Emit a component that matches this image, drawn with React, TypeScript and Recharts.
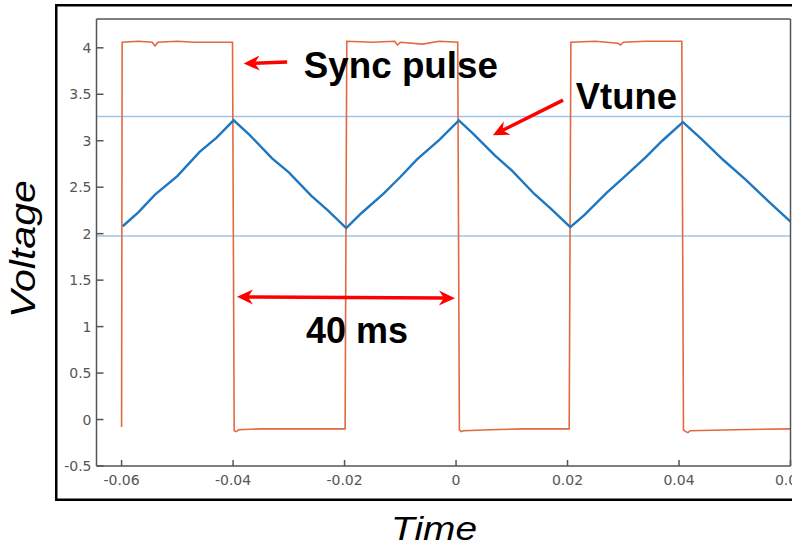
import React from "react";
import {
  LineChart,
  Line,
  XAxis,
  YAxis,
  ReferenceLine,
  ReferenceDot,
} from "recharts";

const X_TICKS = [-0.06, -0.04, -0.02, 0, 0.02, 0.04, 0.06];
const Y_TICKS = [-0.5, 0, 0.5, 1, 1.5, 2, 2.5, 3, 3.5, 4];
const X_DOMAIN = [-0.0645, 0.06];
const Y_DOMAIN = [-0.5, 4.31];

// sync pulse (orange square wave)
const syncTime = [
  -0.06, -0.0599, -0.057, -0.0545, -0.054, -0.0535, -0.05, -0.047, -0.0401,
  -0.0398, -0.0394, -0.039, -0.035, -0.03, -0.025, -0.0199,
  -0.0196, -0.015, -0.011, -0.0105, -0.01, -0.006, -0.003, 0.0003,
  0.0006, 0.0009, 0.0014, 0.006, 0.012, 0.0203,
  0.0206, 0.025, 0.029, 0.0295, 0.03, 0.034, 0.0405,
  0.0408, 0.0412, 0.0416, 0.042, 0.05, 0.06,
];
const syncVolt = [
  -0.08, 4.06, 4.07, 4.06, 4.02, 4.06, 4.07, 4.06, 4.06,
  -0.12, -0.13, -0.11, -0.1, -0.1, -0.1, -0.1,
  4.07, 4.06, 4.07, 4.03, 4.06, 4.04, 4.07, 4.06,
  -0.11, -0.13, -0.12, -0.11, -0.1, -0.1,
  4.06, 4.07, 4.05, 4.03, 4.06, 4.07, 4.07,
  -0.11, -0.13, -0.14, -0.12, -0.11, -0.1,
];

// Vtune (blue triangle ramp)
const vtuneTime = [
  -0.0598, -0.057, -0.054, -0.05, -0.046, -0.043, -0.0399,
  -0.037, -0.033, -0.03, -0.026, -0.023, -0.0197,
  -0.017, -0.013, -0.01, -0.007, -0.003, 0.0005,
  0.003, 0.007, 0.01, 0.014, 0.017, 0.0205,
  0.023, 0.027, 0.03, 0.034, 0.037, 0.0407,
  0.044, 0.048, 0.052, 0.056, 0.06,
];
const vtuneVolt = [
  2.08, 2.23, 2.42, 2.62, 2.88, 3.03, 3.22,
  3.06, 2.81, 2.66, 2.41, 2.25, 2.06,
  2.22, 2.43, 2.61, 2.8, 3.01, 3.22,
  3.08, 2.84, 2.68, 2.43, 2.27, 2.07,
  2.2, 2.44, 2.6, 2.82, 3.0, 3.2,
  3.02, 2.79, 2.58, 2.35, 2.13,
];

// light blue guide lines at the Vtune extremes
const guideLevels = [3.26, 1.975];

// annotations (data coordinates)
const noteText = ["Sync pulse", "Vtune", "40 ms"];
const noteAt = [
  [-0.0273, 3.674],
  [0.0215, 3.346],
  [-0.0269, 0.8245],
];
const noteLength = [194, 101, 102];

const arrowStart = [
  [-0.0303, 3.846],
  [0.0192, 3.437],
  [-0.0393, 1.32],
];
const arrowEnd = [
  [-0.0381, 3.83],
  [0.0066, 3.06],
  [-0.0002, 1.306],
];
const arrowBoth = [false, false, true];

const RED = "#ff0000";
const AXIS = "#555";

const head = (tx: number, ty: number, fx: number, fy: number, key: string) => {
  const a = Math.atan2(ty - fy, tx - fx);
  const c = Math.cos(a);
  const s = Math.sin(a);
  const pt = (along: number, across: number) =>
    `${tx - along * c - across * s},${ty - along * s + across * c}`;
  return (
    <polygon
      key={key}
      points={[pt(0, 0), pt(16, 7.5), pt(11, 0), pt(16, -7.5)].join(" ")}
      fill={RED}
    />
  );
};

const ArrowShape = (props: any, both: boolean) => {
  const { x1, y1, x2, y2 } = props;
  const a = Math.atan2(y2 - y1, x2 - x1);
  const c = Math.cos(a);
  const s = Math.sin(a);
  const sx = both ? x1 + 11 * c : x1;
  const sy = both ? y1 + 11 * s : y1;
  return (
    <g>
      <line
        x1={sx}
        y1={sy}
        x2={x2 - 11 * c}
        y2={y2 - 11 * s}
        stroke={RED}
        strokeWidth={3.5}
      />
      {head(x2, y2, x1, y1, "e")}
      {both && head(x1, y1, x2, y2, "s")}
    </g>
  );
};

export default function App() {
  const sync = syncTime.map((t, i) => ({ t, v: syncVolt[i] }));
  const vtune = vtuneTime.map((t, i) => ({ t, v: vtuneVolt[i] }));
  const tickStyle = {
    fill: AXIS,
    fontSize: 14,
    fontFamily: "'DejaVu Sans', sans-serif",
  };

  return (
    <div
      style={{
        position: "absolute",
        left: 0,
        top: 0,
        width: 792,
        height: 552,
        overflow: "hidden",
        background: "#fff",
        fontFamily: "'Liberation Sans', Arial, sans-serif",
      }}
    >
      <svg
        width={792}
        height={552}
        style={{ position: "absolute", left: 0, top: 0 }}
      >
        <rect
          x={56.25}
          y={5.25}
          width={800}
          height={494.5}
          fill="none"
          stroke="#000"
          strokeWidth={2.5}
        />
        <text
          transform="translate(35 249) rotate(-90)"
          textAnchor="middle"
          fontSize={35}
          fontStyle="italic"
          textLength={138}
          lengthAdjust="spacingAndGlyphs"
          fill="#000"
        >
          Voltage
        </text>
        <text
          x={434}
          y={540}
          textAnchor="middle"
          fontSize={34}
          fontStyle="italic"
          textLength={86}
          lengthAdjust="spacingAndGlyphs"
          fill="#000"
        >
          Time
        </text>
      </svg>
      <div style={{ position: "absolute", left: 0, top: 0 }}>
        <LineChart
          width={840}
          height={552}
          margin={{ top: 18, right: 48.5, bottom: 56, left: 56.5 }}
        >
          <XAxis
            dataKey="t"
            type="number"
            domain={X_DOMAIN}
            ticks={X_TICKS}
            interval={0}
            allowDataOverflow
            height={30}
            tickSize={-6}
            tickMargin={15}
            tick={tickStyle}
            axisLine={{ stroke: AXIS, strokeWidth: 1.5 }}
            tickLine={{ stroke: AXIS, strokeWidth: 1.5 }}
          />
          <XAxis
            xAxisId="top"
            orientation="top"
            type="number"
            domain={X_DOMAIN}
            ticks={X_TICKS}
            interval={0}
            allowDataOverflow
            height={1}
            tickSize={-6}
            tick={false}
            axisLine={{ stroke: AXIS, strokeWidth: 1.5 }}
            tickLine={{ stroke: AXIS, strokeWidth: 1.5 }}
          />
          <YAxis
            type="number"
            domain={Y_DOMAIN}
            ticks={Y_TICKS}
            interval={0}
            allowDataOverflow
            width={40}
            tickSize={-7}
            tickMargin={12}
            tick={tickStyle}
            axisLine={{ stroke: AXIS, strokeWidth: 1.5 }}
            tickLine={{ stroke: AXIS, strokeWidth: 1.5 }}
          />
          <YAxis
            yAxisId="right"
            orientation="right"
            type="number"
            domain={Y_DOMAIN}
            ticks={Y_TICKS}
            interval={0}
            allowDataOverflow
            width={1}
            tickSize={-6}
            tick={false}
            axisLine={{ stroke: AXIS, strokeWidth: 1.5 }}
            tickLine={{ stroke: AXIS, strokeWidth: 1.5 }}
          />
          {guideLevels.map((lv) => (
            <ReferenceLine
              key={`g-${lv}`}
              y={lv}
              stroke="#9fc6ea"
              strokeWidth={1.5}
            />
          ))}
          <Line
            data={sync}
            dataKey="v"
            type="linear"
            stroke="#e2693f"
            strokeWidth={1.6}
            dot={false}
            isAnimationActive={false}
          />
          <Line
            data={vtune}
            dataKey="v"
            type="linear"
            stroke="#1f77c0"
            strokeWidth={2.4}
            dot={false}
            isAnimationActive={false}
          />
          {arrowStart.map((p, i) => (
            <ReferenceLine
              key={`a-${i}`}
              segment={[
                { x: p[0], y: p[1] },
                { x: arrowEnd[i][0], y: arrowEnd[i][1] },
              ]}
              shape={(props: any) => ArrowShape(props, arrowBoth[i])}
            />
          ))}
          {noteText.map((txt, i) => (
            <ReferenceDot
              key={`n-${i}`}
              x={noteAt[i][0]}
              y={noteAt[i][1]}
              r={0}
              shape={(props: any) => (
                <text
                  x={props.cx}
                  y={props.cy}
                  fontSize={36}
                  fontWeight="bold"
                  fill="#000"
                  fontFamily="'Liberation Sans', Arial, sans-serif"
                  textLength={noteLength[i]}
                  lengthAdjust="spacingAndGlyphs"
                >
                  {txt}
                </text>
              )}
            />
          ))}
        </LineChart>
      </div>
    </div>
  );
}
